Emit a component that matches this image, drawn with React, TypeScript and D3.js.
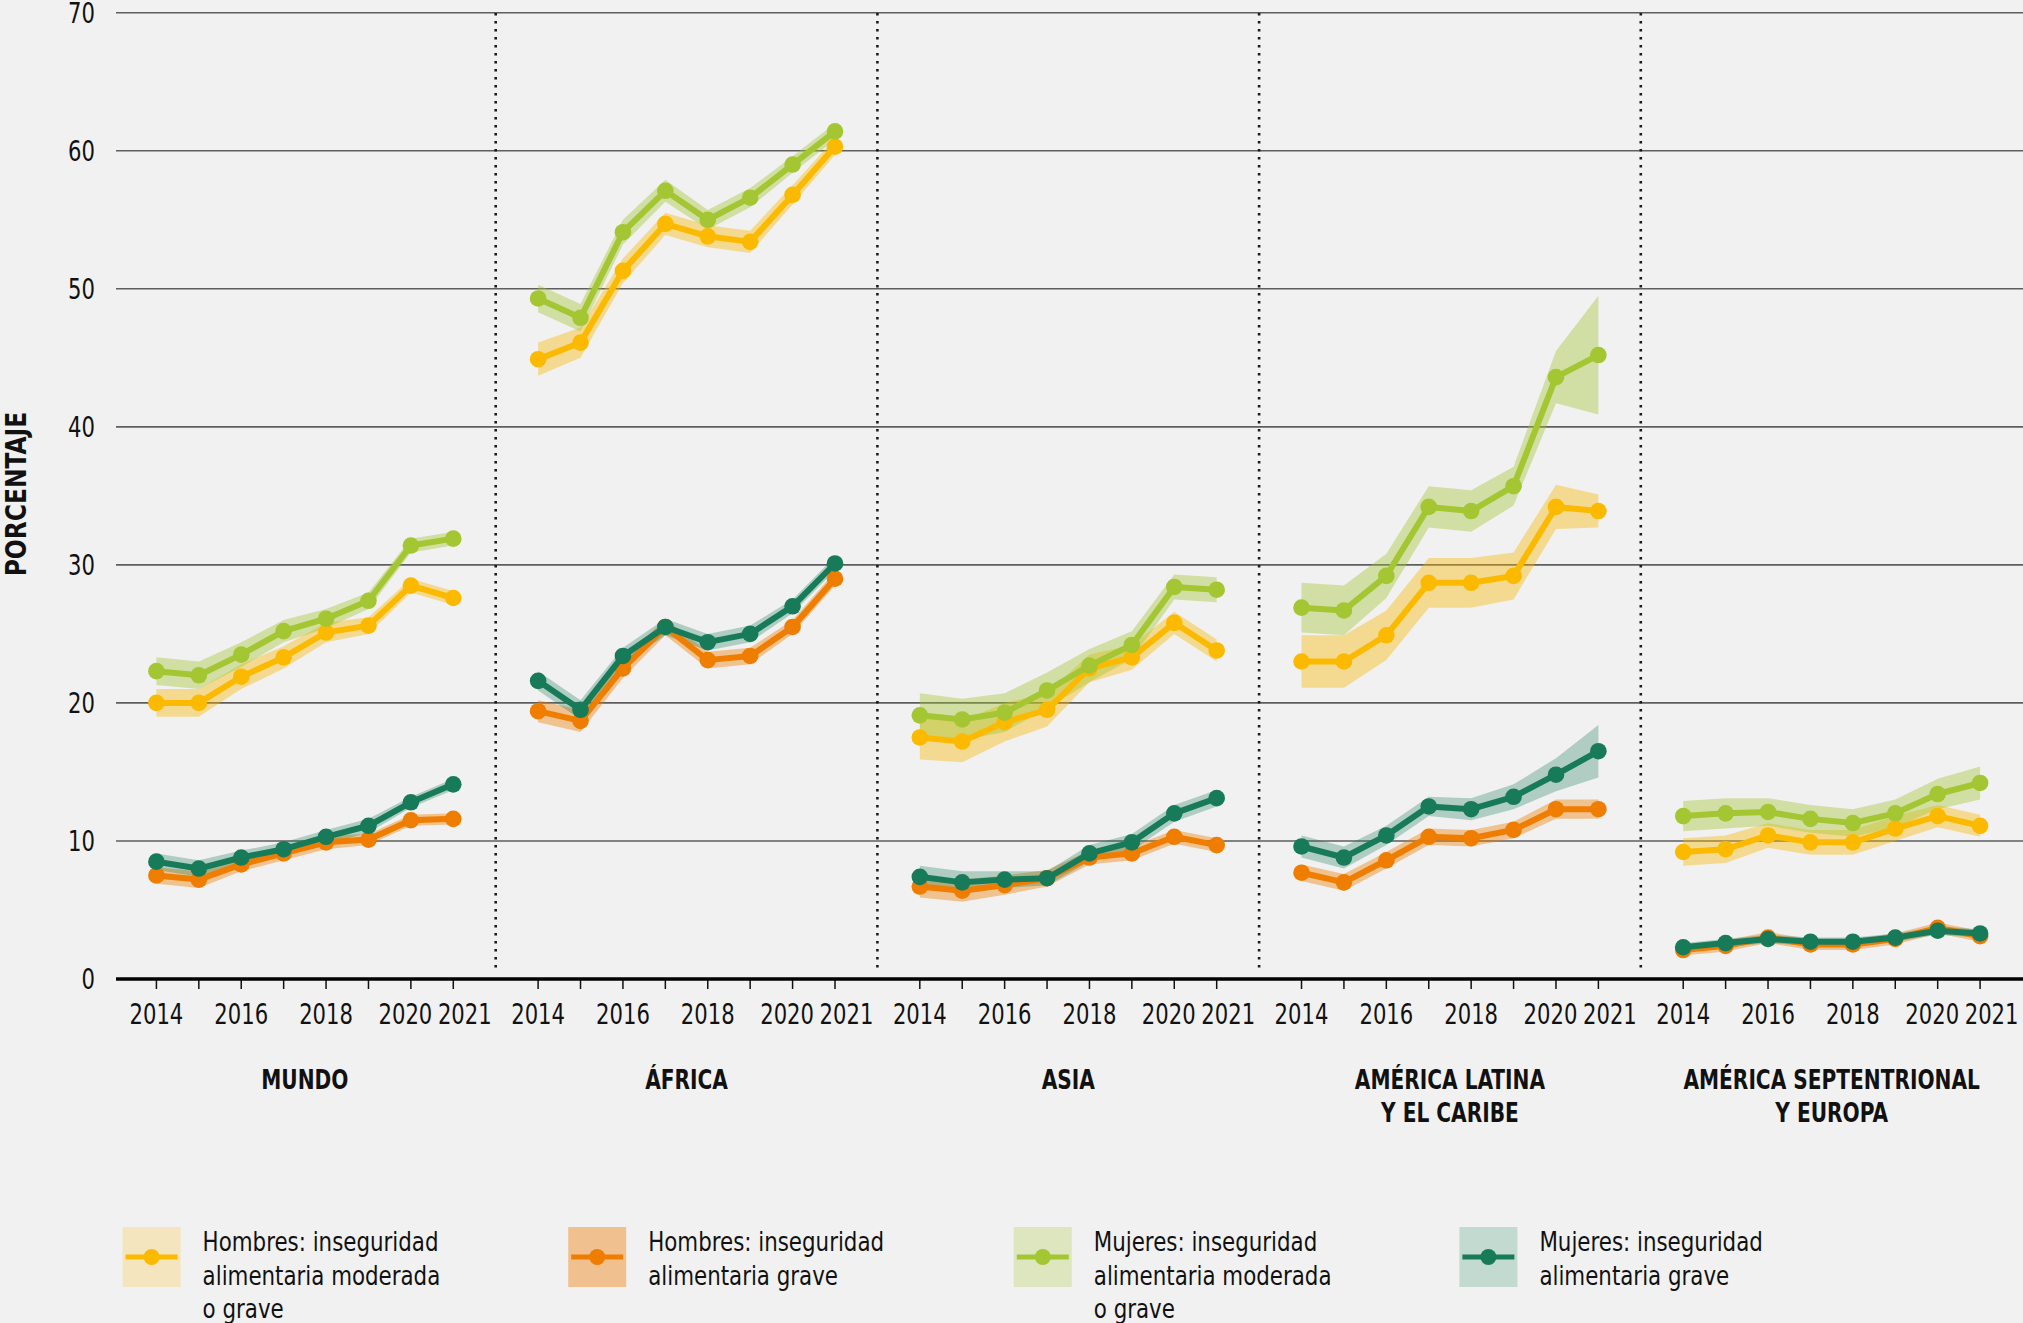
import React from 'react';
import * as d3 from 'd3';

const years = [2014, 2015, 2016, 2017, 2018, 2019, 2020, 2021];
const xTickLabels = [2014, 2016, 2018, 2020, 2021];
const yTicks = [0, 10, 20, 30, 40, 50, 60, 70];
const regions = [
  ['MUNDO'],
  ['ÁFRICA'],
  ['ASIA'],
  ['AMÉRICA LATINA', 'Y EL CARIBE'],
  ['AMÉRICA SEPTENTRIONAL', 'Y EUROPA'],
];

// values per region (Mundo, África, Asia, ALC, AmSept+Europa)
const hombresModerada = [
  [20.0, 20.0, 21.9, 23.3, 25.1, 25.6, 28.5, 27.6],
  [44.9, 46.1, 51.3, 54.7, 53.8, 53.4, 56.8, 60.3],
  [17.5, 17.2, 18.6, 19.5, 22.5, 23.3, 25.8, 23.8],
  [23.0, 23.0, 24.9, 28.7, 28.7, 29.2, 34.2, 33.9],
  [9.2, 9.4, 10.4, 9.9, 9.9, 10.9, 11.8, 11.1],
];
const hombresGrave = [
  [7.5, 7.2, 8.3, 9.1, 9.9, 10.1, 11.5, 11.6],
  [19.4, 18.7, 22.5, 25.5, 23.1, 23.4, 25.5, 29.0],
  [6.7, 6.4, 6.8, 7.3, 8.8, 9.1, 10.3, 9.7],
  [7.7, 7.0, 8.6, 10.3, 10.2, 10.8, 12.3, 12.3],
  [2.1, 2.4, 3.0, 2.5, 2.5, 2.9, 3.7, 3.1],
];
const mujeresModerada = [
  [22.3, 22.0, 23.5, 25.2, 26.1, 27.4, 31.4, 31.9],
  [49.3, 47.9, 54.1, 57.1, 55.0, 56.6, 59.0, 61.4],
  [19.1, 18.8, 19.3, 20.9, 22.7, 24.2, 28.4, 28.2],
  [26.9, 26.7, 29.2, 34.2, 33.9, 35.7, 43.6, 45.2],
  [11.8, 12.0, 12.1, 11.6, 11.3, 12.0, 13.4, 14.2],
];
const mujeresGrave = [
  [8.5, 8.0, 8.8, 9.4, 10.3, 11.1, 12.8, 14.1],
  [21.6, 19.5, 23.4, 25.5, 24.4, 25.0, 27.0, 30.1],
  [7.4, 7.0, 7.2, 7.3, 9.1, 9.9, 12.0, 13.1],
  [9.6, 8.8, 10.4, 12.5, 12.3, 13.2, 14.8, 16.5],
  [2.3, 2.6, 2.9, 2.7, 2.7, 3.0, 3.5, 3.3],
];

// confidence-interval half widths
const hombresModeradaMargen = [
  [1.0, 1.0, 0.9, 0.8, 0.7, 0.6, 0.5, 0.5],
  [1.2, 1.1, 0.9, 0.8, 0.8, 0.8, 0.7, 0.6],
  [1.6, 1.5, 1.4, 1.2, 1.0, 0.9, 0.8, 0.8],
  [1.9, 1.9, 1.8, 1.8, 1.8, 1.7, 1.6, 1.2],
  [1.0, 1.0, 0.9, 0.9, 0.9, 0.9, 0.8, 0.8],
];
const hombresGraveMargen = [
  [0.6, 0.6, 0.5, 0.5, 0.5, 0.4, 0.4, 0.4],
  [0.8, 0.8, 0.7, 0.6, 0.6, 0.6, 0.5, 0.5],
  [0.8, 0.8, 0.7, 0.6, 0.5, 0.5, 0.5, 0.5],
  [0.6, 0.6, 0.6, 0.6, 0.6, 0.6, 0.7, 0.7],
  [0.4, 0.4, 0.4, 0.4, 0.4, 0.4, 0.4, 0.4],
];
const mujeresModeradaMargen = [
  [1.0, 1.0, 0.9, 0.8, 0.7, 0.6, 0.5, 0.5],
  [1.0, 1.0, 0.9, 0.8, 0.7, 0.7, 0.6, 0.6],
  [1.6, 1.5, 1.4, 1.3, 1.2, 1.0, 0.9, 0.9],
  [1.8, 1.8, 1.6, 1.5, 1.5, 1.4, 1.9, 4.3],
  [1.1, 1.1, 1.0, 1.0, 1.0, 1.0, 1.1, 1.2],
];
const mujeresGraveMargen = [
  [0.6, 0.6, 0.5, 0.5, 0.5, 0.5, 0.4, 0.4],
  [0.7, 0.7, 0.6, 0.6, 0.6, 0.6, 0.5, 0.5],
  [0.8, 0.8, 0.6, 0.5, 0.6, 0.6, 0.6, 0.6],
  [0.8, 0.8, 0.7, 0.7, 0.8, 0.9, 1.2, 1.9],
  [0.3, 0.3, 0.3, 0.3, 0.3, 0.3, 0.3, 0.3],
];

const legendLabels = [
  ['Hombres: inseguridad', 'alimentaria moderada', 'o grave'],
  ['Hombres: inseguridad', 'alimentaria grave'],
  ['Mujeres: inseguridad', 'alimentaria moderada', 'o grave'],
  ['Mujeres: inseguridad', 'alimentaria grave'],
];

const series = [
  { values: hombresModerada, margins: hombresModeradaMargen, color: '#FBBA00', bandOpacity: 0.4, legendBox: '#F4E5BF' },
  { values: hombresGrave, margins: hombresGraveMargen, color: '#EE7D00', bandOpacity: 0.4, legendBox: '#F0C18F' },
  { values: mujeresModerada, margins: mujeresModeradaMargen, color: '#A3C632', bandOpacity: 0.4, legendBox: '#DDE6BF' },
  { values: mujeresGrave, margins: mujeresGraveMargen, color: '#177A59', bandOpacity: 0.3, legendBox: '#C3DAD1' },
];

const W = 2023;
const H = 1323;
const COND = "'Liberation Sans Narrow', 'DejaVu Sans Condensed', 'Arial Narrow', sans-serif";
const plotLeft = 114;
const panelW = 381.7;
const axisStart = 116;
// small horizontal nudges so the adjacent 2020 / 2021 labels do not collide
const xLabelNudge: Record<number, number> = { 2014: 0, 2016: 0, 2018: 0, 2020: -5.5, 2021: 11.5 };

type CTProps = {
  x: number;
  y: number;
  sx: number;
  size: number;
  anchor?: 'start' | 'middle' | 'end';
  bold?: boolean;
  rotate?: number;
  dy?: string;
  children: React.ReactNode;
};

function CText({ x, y, sx, size, anchor = 'start', bold = false, rotate = 0, dy, children }: CTProps) {
  return (
    <g transform={`translate(${x},${y}) rotate(${rotate}) scale(${sx},1)`}>
      <text
        x={0}
        y={0}
        dy={dy}
        textAnchor={anchor}
        fontFamily={COND}
        fontWeight={bold ? 'bold' : 'normal'}
        fontSize={size}
        fill="#111"
      >
        {children}
      </text>
    </g>
  );
}

export default function App() {
  const y = d3.scaleLinear().domain([0, 70]).range([979, 12.7]);

  const panels = regions.map((label, i) => {
    const x = d3
      .scaleLinear()
      .domain([2013, 2022])
      .range([plotLeft + i * panelW, plotLeft + (i + 1) * panelW]);
    const area = d3
      .area<{ yr: number; v: number; m: number }>()
      .x((d) => x(d.yr))
      .y0((d) => y(d.v - d.m))
      .y1((d) => y(d.v + d.m));
    const line = d3
      .line<{ yr: number; v: number; m: number }>()
      .x((d) => x(d.yr))
      .y((d) => y(d.v));
    const sData = series.map((s) =>
      years.map((yr, k) => ({ yr, v: s.values[i][k], m: s.margins[i][k] }))
    );
    return { label, i, x, area, line, sData };
  });

  return (
    <div style={{ position: 'absolute', left: 0, top: 0 }}>
      <svg width={W} height={H} style={{ display: 'block' }}>
        <rect x={0} y={0} width={W} height={H} fill="#F1F1F1" />
        {/* gridlines */}
        {yTicks.filter((t) => t > 0).map((t) => (
          <line key={t} x1={axisStart} x2={W} y1={y(t)} y2={y(t)} stroke="#5e5e5e" strokeWidth={1.6} />
        ))}
        {yTicks.map((t) => (
          <CText key={'yl' + t} x={95} y={y(t)} dy="0.36em" anchor="end" size={28} sx={0.84}>
            {t}
          </CText>
        ))}
        <CText x={26} y={494} rotate={-90} anchor="middle" size={28} sx={0.93} bold>
          PORCENTAJE
        </CText>
        {/* separators */}
        {[1, 2, 3, 4].map((k) => (
          <line
            key={'sep' + k}
            x1={plotLeft + k * panelW}
            x2={plotLeft + k * panelW}
            y1={13}
            y2={973}
            stroke="#1a1a1a"
            strokeWidth={2.6}
            strokeDasharray="2.6 5.4"
          />
        ))}
        {panels.map((p) => (
          <g key={'p' + p.i}>
            {p.sData.map((d, si) => (
              <path key={'b' + si} d={p.area(d) || ''} fill={series[si].color} fillOpacity={series[si].bandOpacity} />
            ))}
            {p.sData.map((d, si) => (
              <g key={'l' + si}>
                <path d={p.line(d) || ''} fill="none" stroke={series[si].color} strokeWidth={6} strokeLinejoin="round" />
                {d.map((pt) => (
                  <circle key={pt.yr} cx={p.x(pt.yr)} cy={y(pt.v)} r={8.3} fill={series[si].color} />
                ))}
              </g>
            ))}
            {years.map((yr) => (
              <line key={'t' + yr} x1={p.x(yr)} x2={p.x(yr)} y1={979} y2={989} stroke="#111" strokeWidth={1.5} />
            ))}
            {xTickLabels.map((yr) => (
              <CText key={'xl' + yr} x={p.x(yr) + xLabelNudge[yr]} y={1024} anchor="middle" size={28} sx={0.84}>
                {yr}
              </CText>
            ))}
            {p.label.map((ln, li) => (
              <CText
                key={'r' + li}
                x={(p.x(2013) + p.x(2022)) / 2}
                y={1089 + li * 33}
                anchor="middle"
                size={27}
                sx={0.83}
                bold
              >
                {ln}
              </CText>
            ))}
          </g>
        ))}
        {/* axis */}
        <line x1={axisStart} x2={W} y1={979} y2={979} stroke="#000" strokeWidth={3.5} />
        {/* legend */}
        {series.map((s, k) => {
          const lx = 122.6 + k * 445.6;
          return (
            <g key={'lg' + k}>
              <rect x={lx} y={1227} width={58} height={60} fill={s.legendBox} />
              <line x1={lx + 3} x2={lx + 55} y1={1257} y2={1257} stroke={s.color} strokeWidth={5} />
              <circle cx={lx + 29} cy={1257} r={8} fill={s.color} />
              {legendLabels[k].map((t, j) => (
                <CText key={j} x={lx + 80} y={1251 + j * 33.5} size={27} sx={0.88}>
                  {t}
                </CText>
              ))}
            </g>
          );
        })}
      </svg>
    </div>
  );
}
